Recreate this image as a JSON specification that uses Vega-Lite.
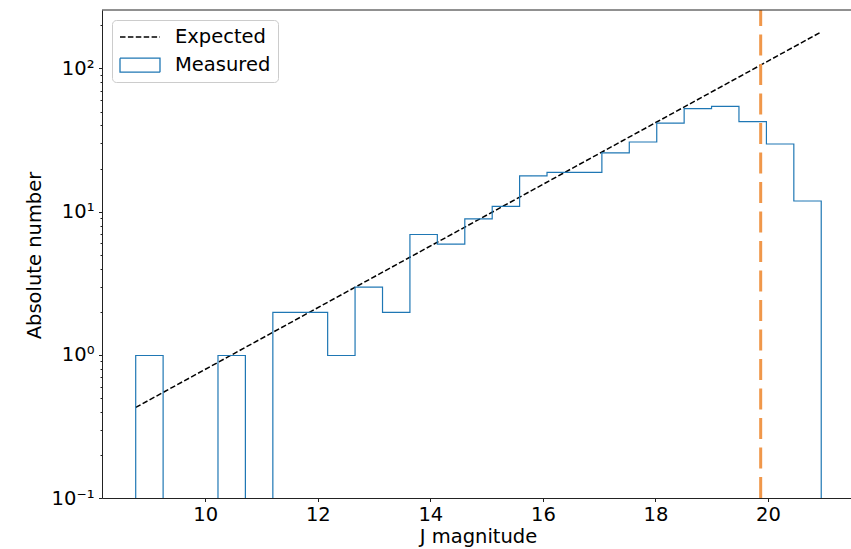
{
  "$schema": "https://vega.github.io/schema/vega-lite/v6.json",
  "width": 749,
  "height": 488,
  "autosize": "none",
  "padding": {"left": 102, "top": 10, "right": 0, "bottom": 51},
  "background": "white",
  "config": {
    "view": {"stroke": null},
    "font": "DejaVu Sans",
    "axis": {
      "domainColor": "#222222", "domainWidth": 1, "tickColor": "#222222", "tickWidth": 1,
      "labelFont": "DejaVu Sans", "labelFontSize": 19.5, "labelColor": "#000000",
      "titleFont": "DejaVu Sans", "titleFontSize": 19.5, "titleFontWeight": "normal", "titleColor": "#000000",
      "grid": false, "zindex": 1, "labelFlush": false, "labelOverlap": false
    },
    "legend": {
      "orient": "top-left", "offset": 10, "padding": 7, "rowPadding": 8.2,
      "labelOffset": 36, "labelFont": "DejaVu Sans", "labelFontSize": 19.5, "labelColor": "#000000", "labelLimit": 400,
      "symbolSize": 324, "symbolStrokeWidth": 1.3, "symbolOpacity": 1,
      "cornerRadius": 4, "strokeColor": "#cccccc", "fillColor": "white"
    }
  },
  "datasets": {
    "measured": [
      {"edge": 8.764, "count": 0, "series": "Measured"},
      {"edge": 8.764, "count": 1, "series": "Measured"},
      {"edge": 9.251, "count": 0, "series": "Measured"},
      {"edge": 9.739, "count": 0, "series": "Measured"},
      {"edge": 10.226, "count": 1, "series": "Measured"},
      {"edge": 10.713, "count": 0, "series": "Measured"},
      {"edge": 11.201, "count": 2, "series": "Measured"},
      {"edge": 11.688, "count": 2, "series": "Measured"},
      {"edge": 12.175, "count": 1, "series": "Measured"},
      {"edge": 12.662, "count": 3, "series": "Measured"},
      {"edge": 13.150, "count": 2, "series": "Measured"},
      {"edge": 13.637, "count": 7, "series": "Measured"},
      {"edge": 14.124, "count": 6, "series": "Measured"},
      {"edge": 14.612, "count": 9, "series": "Measured"},
      {"edge": 15.099, "count": 11, "series": "Measured"},
      {"edge": 15.586, "count": 18, "series": "Measured"},
      {"edge": 16.073, "count": 19, "series": "Measured"},
      {"edge": 16.561, "count": 19, "series": "Measured"},
      {"edge": 17.048, "count": 26, "series": "Measured"},
      {"edge": 17.535, "count": 31, "series": "Measured"},
      {"edge": 18.023, "count": 42, "series": "Measured"},
      {"edge": 18.510, "count": 53, "series": "Measured"},
      {"edge": 18.997, "count": 55, "series": "Measured"},
      {"edge": 19.484, "count": 43, "series": "Measured"},
      {"edge": 19.972, "count": 30, "series": "Measured"},
      {"edge": 20.459, "count": 12, "series": "Measured"},
      {"edge": 20.946, "count": 0, "series": "Measured"}
    ],
    "expected": [
      {"mag": 8.764, "n": 0.429, "series": "Expected"},
      {"mag": 20.93, "n": 178.6, "series": "Expected"}
    ],
    "limit": [{"mag": 19.87}]
  },
  "layer": [
    {
      "data": {"name": "expected"},
      "mark": {"type": "line", "strokeWidth": 1.5},
      "encoding": {
        "x": {"field": "mag", "type": "quantitative",
          "scale": {"domain": [8.165, 21.475], "nice": false, "zero": false},
          "axis": {"values": [10, 12, 14, 16, 18, 20], "format": "d", "tickSize": 3.5, "labelPadding": 18.9,
            "labelBaseline": "alphabetic", "title": "J magnitude", "titleX": 376, "titleY": 44,
            "titleBaseline": "alphabetic", "titleAlign": "center"}},
        "y": {"field": "n", "type": "quantitative",
          "scale": {"type": "log", "domain": [0.1, 256], "nice": false, "clamp": true},
          "axis": {
            "values": [0.1, 0.2, 0.3, 0.4, 0.5, 0.6, 0.7, 0.8, 0.9, 1, 2, 3, 4, 5, 6, 7, 8, 9, 10, 20, 30, 40, 50, 60, 70, 80, 90, 100, 200],
            "labelExpr": "datum.value == 0.1 ? '10⁻¹' : datum.value == 1 ? '10⁰' : datum.value == 10 ? '10¹' : datum.value == 100 ? '10²' : ''",
            "tickSize": {"condition": {"test": "indexof([0.1, 1, 10, 100], datum.value) >= 0", "value": 3.5}, "value": 2},
            "labelPadding": 4.5, "labelBaseline": "middle",
            "title": "Absolute number", "titleX": -62, "titleY": 245, "titleAngle": -90,
            "titleBaseline": "alphabetic", "titleAlign": "center"}},
        "color": {"field": "series", "type": "nominal",
          "scale": {"domain": ["Expected", "Measured"], "range": ["#000000", "#1f77b4"]},
          "legend": {"title": null}},
        "strokeDash": {"field": "series", "type": "nominal",
          "scale": {"domain": ["Expected", "Measured"], "range": [[5.5, 2.4], [1, 0]]},
          "legend": {"title": null}}
      }
    },
    {
      "data": {"name": "expected"},
      "mark": {"type": "point", "opacity": 0},
      "encoding": {
        "x": {"field": "mag", "type": "quantitative"},
        "y": {"field": "n", "type": "quantitative"},
        "color": {"field": "series", "type": "nominal", "legend": {"title": null}},
        "shape": {"field": "series", "type": "nominal",
          "scale": {"domain": ["Expected", "Measured"], "range": ["M-1,0H3.444", "M-1,-0.778H3.444V0.778H-1Z"]},
          "legend": {"title": null}}
      }
    },
    {
      "data": {"name": "measured"},
      "mark": {"type": "line", "interpolate": "step-after", "strokeWidth": 1.2, "clip": true, "yOffset": 0.7},
      "encoding": {
        "x": {"field": "edge", "type": "quantitative"},
        "y": {"field": "count", "type": "quantitative"},
        "order": {"value": null},
        "color": {"field": "series", "type": "nominal", "legend": {"title": null}},
        "strokeDash": {"field": "series", "type": "nominal", "legend": {"title": null}}
      }
    },
    {
      "data": {"name": "limit"},
      "mark": {"type": "rule", "color": "#f0974a", "strokeWidth": 3, "strokeDash": [21, 8.5]},
      "encoding": {
        "x": {"field": "mag", "type": "quantitative"},
        "y": {"datum": 0.1},
        "y2": {"datum": 256}
      }
    },
    {
      "mark": {"type": "rule", "color": "#222222", "strokeWidth": 1},
      "data": {"values": [{}]},
      "encoding": {"y": {"datum": 256}}
    }
  ]
}
